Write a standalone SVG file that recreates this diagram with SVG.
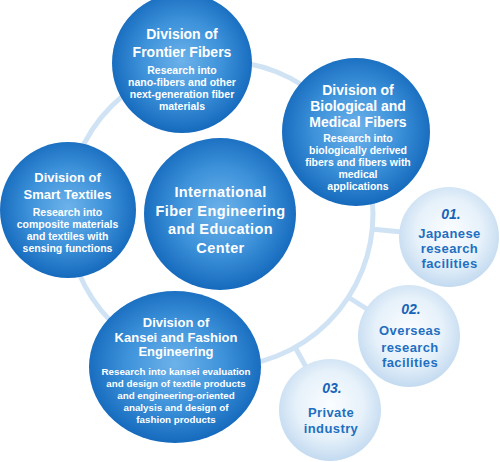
<svg xmlns="http://www.w3.org/2000/svg" width="500" height="462" viewBox="0 0 500 462">
<defs>
<radialGradient id="dark" cx="50%" cy="48%" r="52%">
<stop offset="0" stop-color="#6db2ea"/>
<stop offset="0.55" stop-color="#3d92da"/>
<stop offset="1" stop-color="#166abd"/>
</radialGradient>
<radialGradient id="light" cx="50%" cy="45%" r="55%">
<stop offset="0" stop-color="#fbfdff"/>
<stop offset="0.6" stop-color="#e6f1fa"/>
<stop offset="1" stop-color="#c3daf0"/>
</radialGradient>
<style>
.dk{fill:url(#dark)}
.lt{fill:url(#light)}
.ring{fill:none;stroke:#d0e3f4;stroke-width:5}
.con{stroke:#d0e3f4;stroke-width:5}
text{font-family:"Liberation Sans",Arial,sans-serif;text-anchor:middle}
.t{fill:#fff;font-weight:bold;font-size:14px}
.d{fill:#fff;font-weight:bold;font-size:10.5px}
.n{fill:#1763b8;font-weight:bold;font-style:italic;font-size:14px}
.l{fill:#1f6fc2;font-weight:bold;font-size:13px;letter-spacing:0.4px}
</style>
</defs>
<g id="connectors">
<circle class="ring" cx="220" cy="214" r="153"/>
<line class="con" x1="371" y1="229" x2="402" y2="232"/>
<line class="con" x1="348" y1="297" x2="370" y2="311"/>
<line class="con" x1="295" y1="347" x2="306" y2="367"/>
</g>
<g id="frontier">
<circle class="dk" cx="182" cy="63" r="70"/>
<text class="t" x="182" y="39">Division of</text>
<text class="t" x="182" y="57">Frontier Fibers</text>
<text class="d" x="182" y="74">Research into</text>
<text class="d" x="182" y="86">nano-fibers and other</text>
<text class="d" x="182" y="98">next-generation fiber</text>
<text class="d" x="182" y="110">materials</text>
</g>
<g id="biological">
<circle class="dk" cx="356" cy="132" r="74"/>
<text class="t" x="358" y="95">Division of</text>
<text class="t" x="358" y="111">Biological and</text>
<text class="t" x="358" y="127">Medical Fibers</text>
<text class="d" x="358" y="142">Research into</text>
<text class="d" x="358" y="154">biologically derived</text>
<text class="d" x="358" y="166">fibers and fibers with</text>
<text class="d" x="358" y="178">medical</text>
<text class="d" x="358" y="190">applications</text>
</g>
<g id="smart">
<circle class="dk" cx="68" cy="210" r="68"/>
<text class="t" x="67.5" y="182" style="font-size:13px">Division of</text>
<text class="t" x="67.5" y="199" style="font-size:13px">Smart Textiles</text>
<text class="d" x="67.5" y="216">Research into</text>
<text class="d" x="67.5" y="228">composite materials</text>
<text class="d" x="67.5" y="240">and textiles with</text>
<text class="d" x="67.5" y="252">sensing functions</text>
</g>
<g id="center">
<circle class="dk" cx="220" cy="214" r="76"/>
<text class="t" x="220.5" y="197" style="font-size:14.5px;letter-spacing:0.4px">International</text>
<text class="t" x="220.5" y="215.5" style="font-size:14.5px;letter-spacing:0.4px">Fiber Engineering</text>
<text class="t" x="220.5" y="234" style="font-size:14.5px;letter-spacing:0.4px">and Education</text>
<text class="t" x="220.5" y="252.5" style="font-size:14.5px;letter-spacing:0.4px">Center</text>
</g>
<g id="kansei">
<ellipse class="dk" cx="175" cy="367" rx="86" ry="76"/>
<text class="t" x="176" y="327" style="font-size:13px">Division of</text>
<text class="t" x="176" y="342" style="font-size:13px">Kansei and Fashion</text>
<text class="t" x="176" y="356" style="font-size:13px">Engineering</text>
<text class="d" x="176" y="375" style="font-size:9.8px">Research into kansei evaluation</text>
<text class="d" x="176" y="387" style="font-size:9.8px">and design of textile products</text>
<text class="d" x="176" y="399" style="font-size:9.8px">and engineering-oriented</text>
<text class="d" x="176" y="411" style="font-size:9.8px">analysis and design of</text>
<text class="d" x="176" y="423" style="font-size:9.8px">fashion products</text>
</g>
<g id="japanese">
<circle class="lt" cx="449" cy="237" r="50"/>
<text class="n" x="451" y="219">01.</text>
<text class="l" x="449.5" y="238">Japanese</text>
<text class="l" x="449.5" y="253">research</text>
<text class="l" x="449.5" y="267.5">facilities</text>
</g>
<g id="overseas">
<circle class="lt" cx="409" cy="336" r="51"/>
<text class="n" x="411" y="314">02.</text>
<text class="l" x="410" y="335">Overseas</text>
<text class="l" x="410" y="351.5">research</text>
<text class="l" x="410" y="366.5">facilities</text>
</g>
<g id="private">
<circle class="lt" cx="330" cy="410" r="51"/>
<text class="n" x="332" y="393">03.</text>
<text class="l" x="331" y="416.5">Private</text>
<text class="l" x="331" y="433">industry</text>
</g>
</svg>
